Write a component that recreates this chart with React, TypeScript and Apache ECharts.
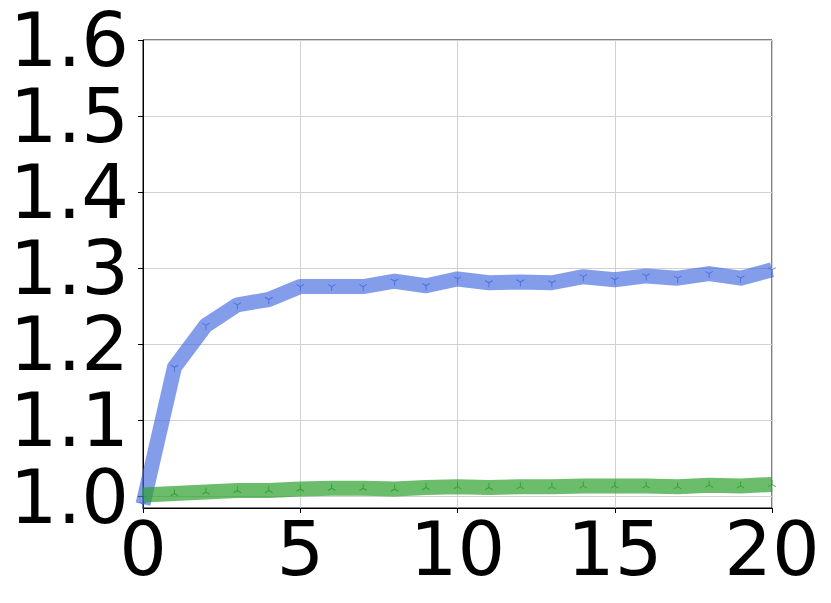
import React, { useEffect, useRef } from "react";
import * as echarts from "echarts";

const steps = [0, 1, 2, 3, 4, 5, 6, 7, 8, 9, 10, 11, 12, 13, 14, 15, 16, 17, 18, 19, 20];
const blueValues = [0.99, 1.17, 1.225, 1.252, 1.259, 1.276, 1.276, 1.276, 1.283, 1.277, 1.286, 1.281, 1.282, 1.281, 1.289, 1.285, 1.29, 1.287, 1.293, 1.287, 1.298];
const greenValues = [1.002, 1.004, 1.006, 1.008, 1.008, 1.01, 1.011, 1.011, 1.01, 1.012, 1.013, 1.012, 1.013, 1.013, 1.014, 1.014, 1.014, 1.013, 1.015, 1.014, 1.016];
const yTicks = [1.0, 1.1, 1.2, 1.3, 1.4, 1.5, 1.6];
const xTicks = [0, 5, 10, 15, 20];

// tri_down "Y" and tri_up shapes (centered using degenerate points)
const TRI_DOWN =
  "path://M0 -100 L0 -100 Z M0 100 L0 100 Z M-11 0 L11 0 L11 100 L-11 100 Z " +
  "M-5.5 -9.5 L81.1 -59.5 L92.1 -40.5 L5.5 9.5 Z " +
  "M-5.5 9.5 L-92.1 -40.5 L-81.1 -59.5 L5.5 -9.5 Z";
const TRI_UP =
  "path://M0 -100 L0 -100 Z M0 100 L0 100 Z M-11 0 L-11 -100 L11 -100 L11 0 Z " +
  "M-5.5 9.5 L5.5 -9.5 L92.1 40.5 L81.1 59.5 Z " +
  "M5.5 9.5 L-81.1 59.5 L-92.1 40.5 L-5.5 -9.5 Z";

export default function App() {
  const ref = useRef<HTMLDivElement>(null);
  useEffect(() => {
    document.body.style.margin = "0";
    const chart = echarts.init(ref.current!, null, { renderer: "svg" });
    const font = "DejaVu Sans";
    const blue = "rgba(65,105,225,0.65)";
    const green = "rgba(44,160,44,0.7)";
    const blueMark = "rgba(65,105,225,0.85)";
    const greenMark = "rgba(44,160,44,0.9)";
    const evenTicks = yTicks.filter((_, i) => i % 2 === 0);
    const oddTicks = yTicks.filter((_, i) => i % 2 === 1);
    const yLabel = (vals: number[]) => ({
      fontFamily: font,
      fontSize: 75,
      color: "#000",
      margin: 14,
      customValues: vals,
      showMinLabel: true,
      showMaxLabel: true,
      hideOverlap: false,
      formatter: (v: number) => v.toFixed(1),
    });
    chart.setOption({
      animation: false,
      backgroundColor: "#ffffff",
      grid: {
        left: 143,
        right: 59,
        top: 40,
        bottom: 95,
        show: true,
        borderColor: "#000",
        borderWidth: 1,
        backgroundColor: "transparent",
      },
      xAxis: {
        type: "value",
        min: 0,
        max: 20,
        interval: 5,
        axisLine: { show: true, lineStyle: { color: "#000", width: 1 } },
        axisTick: { show: true, inside: false, length: 5, lineStyle: { color: "#000" } },
        axisLabel: {
          fontFamily: font,
          fontSize: 75,
          color: "#000",
          margin: 3,
          customValues: xTicks,
          showMinLabel: true,
          showMaxLabel: true,
          hideOverlap: false,
        },
        splitLine: { show: true, lineStyle: { color: "#d0d0d0", width: 1 } },
      },
      yAxis: [
        {
          type: "value",
          position: "left",
          min: 0.985,
          max: 1.6,
          axisLine: { show: true, lineStyle: { color: "#000", width: 1 } },
          axisTick: {
            show: true,
            inside: false,
            length: 5,
            lineStyle: { color: "#000" },
            customValues: yTicks,
          },
          axisLabel: yLabel(evenTicks),
          splitLine: { show: true, lineStyle: { color: "#d0d0d0", width: 1 } },
        },
        {
          type: "value",
          position: "left",
          offset: 0,
          min: 0.985,
          max: 1.6,
          axisLine: { show: false },
          axisTick: { show: false },
          axisLabel: yLabel(oddTicks),
          splitLine: { show: false },
        },
      ],
      series: [
        {
          type: "line",
          yAxisIndex: 0,
          data: steps.map((s, i) => [s, blueValues[i]]),
          lineStyle: { color: blue, width: 15, join: "round", cap: "butt" },
          itemStyle: { color: blueMark, borderWidth: 0 },
          symbol: TRI_DOWN,
          symbolSize: [8, 9],
          showAllSymbol: true,
          clip: true,
          z: 2,
        },
        {
          type: "line",
          yAxisIndex: 0,
          data: steps.map((s, i) => [s, greenValues[i]]),
          lineStyle: { color: green, width: 15, join: "round", cap: "butt" },
          itemStyle: { color: greenMark, borderWidth: 0 },
          symbol: TRI_UP,
          symbolSize: [8, 9],
          showAllSymbol: true,
          clip: true,
          z: 3,
        },
      ],
    });
    return () => chart.dispose();
  }, []);
  return (
    <div
      ref={ref}
      style={{ position: "absolute", left: 0, top: 0, width: 831, height: 603 }}
    />
  );
}
